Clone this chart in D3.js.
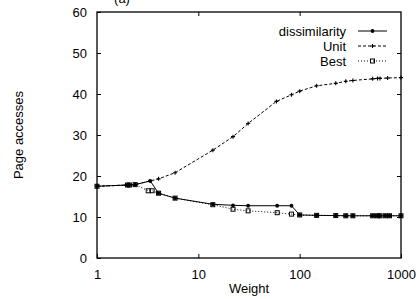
<!DOCTYPE html>
<html lang="en">
<head>
  <meta charset="UTF-8">
  <title>Page accesses vs Weight</title>
  <script src="https://d3js.org/d3.v7.min.js"></script>
  <style>
    body { margin: 0; background: #fff; }
    text { font-family: "Liberation Sans", Arial, sans-serif; fill: #000; }
    .axis text { font-size: 13px; }
    .axis path, .axis line { stroke: #000; }
  </style>
</head>
<body>
  <svg width="419" height="299"></svg>

  <script>
    // data
    const dissimX = [1, 2, 2.09, 2.38, 3.35, 4.05, 5.9, 13.9, 22, 31, 60, 83, 100, 147, 227, 285, 335, 525, 587, 620, 700, 770, 1000];
    const dissimY = [17.5, 17.8, 17.8, 17.9, 18.8, 15.8, 14.6, 13.1, 12.85, 12.75, 12.75, 12.75, 10.5, 10.4, 10.35, 10.3, 10.3, 10.3, 10.3, 10.3, 10.3, 10.3, 10.3];

    const unitX = [1, 2, 2.09, 2.38, 3.35, 4.05, 5.9, 13.9, 22, 31, 59, 83, 100, 147, 227, 285, 335, 525, 587, 620, 738, 1000];
    const unitY = [17.5, 17.8, 17.8, 17.9, 18.8, 19.3, 20.8, 26.3, 29.6, 32.8, 38.2, 39.8, 40.7, 42, 42.6, 43.1, 43.3, 43.7, 43.8, 43.8, 43.9, 44];

    const bestX = [1, 2, 2.09, 2.38, 3.2, 3.5, 4.05, 5.9, 13.9, 22, 31, 60, 83, 100, 147, 227, 285, 335, 525, 587, 620, 700, 770, 1000];
    const bestY = [17.5, 17.8, 17.8, 17.9, 16.4, 16.4, 15.8, 14.6, 13.0, 11.9, 11.5, 11.05, 10.7, 10.5, 10.4, 10.35, 10.3, 10.3, 10.3, 10.3, 10.3, 10.3, 10.3, 10.3];

    const xTicks = [1, 10, 100, 1000];
    const yTicks = [0, 10, 20, 30, 40, 50, 60];

    const svg = d3.select("svg"),
          margin = { top: 12, right: 18, bottom: 41, left: 97 },
          width = +svg.attr("width") - margin.left - margin.right,
          height = +svg.attr("height") - margin.top - margin.bottom;

    const x = d3.scaleLog().domain([1, 1000]).range([0, width]);
    const y = d3.scaleLinear().domain([0, 60]).range([height, 0]);

    // title, cropped at the top edge as in the original
    svg.append("text").attr("x", 122).attr("y", 3).attr("text-anchor", "middle")
      .style("font-size", "13px").text("(a)");

    const g = svg.append("g")
      .attr("transform", "translate(" + margin.left + "," + margin.top + ")");

    // axes, ticks inward and mirrored
    g.append("g").attr("class", "axis")
      .attr("transform", "translate(0," + height + ")")
      .call(d3.axisBottom(x).tickValues(xTicks).tickFormat(d3.format("d")).tickSizeInner(-4).tickSizeOuter(0).tickPadding(12));
    g.append("g").attr("class", "axis")
      .call(d3.axisLeft(y).tickValues(yTicks).tickSizeInner(-4).tickSizeOuter(0).tickPadding(10));
    g.append("g").attr("class", "axis")
      .call(d3.axisTop(x).tickValues(xTicks.slice(1, 3)).tickFormat("").tickSizeInner(-4).tickSizeOuter(0));
    g.append("g").attr("class", "axis")
      .attr("transform", "translate(" + width + ",0)")
      .call(d3.axisRight(y).tickValues(yTicks.slice(1, 6)).tickFormat("").tickSizeInner(-4).tickSizeOuter(0));
    g.selectAll(".axis .domain").remove();

    g.append("rect").attr("width", width).attr("height", height)
      .attr("fill", "none").attr("stroke", "#000").attr("stroke-width", 1.3);

    svg.append("text").attr("x", 249).attr("y", 293).attr("text-anchor", "middle")
      .style("font-size", "13px").text("Weight");
    svg.append("text").attr("transform", "translate(23,135) rotate(-90)")
      .attr("text-anchor", "middle").style("font-size", "13px").text("Page accesses");

    const line = d3.line().x(d => x(d[0])).y(d => y(d[1]));
    const zip = (xs, ys) => xs.map((v, i) => [v, ys[i]]);

    const series = [
      { name: "dissimilarity", pts: zip(dissimX, dissimY), dash: null, mark: "dot" },
      { name: "Unit", pts: zip(unitX, unitY), dash: "3,2", mark: "plus" },
      { name: "Best", pts: zip(bestX, bestY), dash: "1,2", mark: "square" }
    ];

    function drawMark(sel, kind, cx, cy) {
      if (kind === "dot") {
        sel.append("circle").attr("cx", cx).attr("cy", cy).attr("r", 1.9).attr("fill", "#000");
      } else if (kind === "plus") {
        sel.append("path").attr("d", `M${cx - 2},${cy}H${cx + 2}M${cx},${cy - 2}V${cy + 2}`)
          .attr("stroke", "#000").attr("stroke-width", 1.1);
      } else {
        sel.append("rect").attr("x", cx - 2).attr("y", cy - 2).attr("width", 4).attr("height", 4)
          .attr("fill", "none").attr("stroke", "#000").attr("stroke-width", 1);
      }
    }

    series.forEach((s, i) => {
      g.append("path").datum(s.pts).attr("d", line)
        .attr("fill", "none").attr("stroke", "#000").attr("stroke-width", 1)
        .attr("stroke-dasharray", s.dash);
      const mg = g.append("g");
      s.pts.forEach(p => drawMark(mg, s.mark, x(p[0]), y(p[1])));

      // legend
      const ly = 31 + i * 15;
      svg.append("text").attr("x", 346).attr("y", ly).attr("dy", "0.35em")
        .attr("text-anchor", "end").style("font-size", "13px").text(s.name);
      svg.append("line").attr("x1", 358).attr("x2", 387).attr("y1", ly).attr("y2", ly)
        .attr("stroke", "#000").attr("stroke-width", 1).attr("stroke-dasharray", s.dash);
      drawMark(svg, s.mark, 372.5, ly);
    });
  </script>
</body>
</html>
